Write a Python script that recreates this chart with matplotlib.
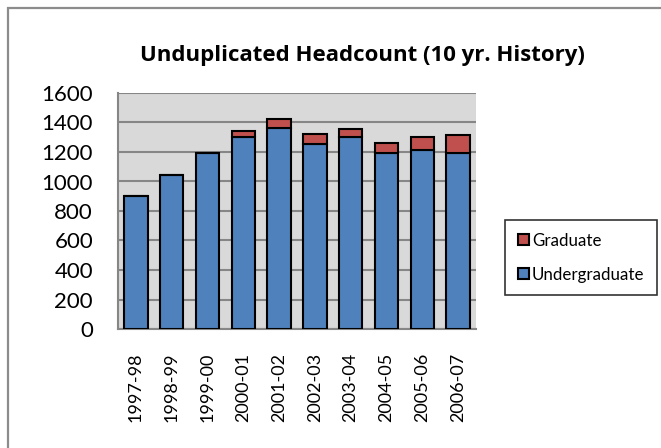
import numpy as np
import matplotlib.pyplot as plt
from matplotlib.patches import Rectangle

# ============== DATA ==============
years = ['1997-98', '1998-99', '1999-00', '2000-01', '2001-02',
         '2002-03', '2003-04', '2004-05', '2005-06', '2006-07']
undergrad = [905, 1042, 1193, 1300, 1360, 1257, 1300, 1195, 1213, 1190]
grad      = [0, 0, 0, 41, 61, 62, 59, 64, 88, 128]

plt.rcParams['font.family'] = ['Lato', 'DejaVu Sans']

W, H = 661, 448
fig = plt.figure(figsize=(W/100, H/100), dpi=100)

# chart border (cut off at right / bottom like the screenshot)
fig.patches.append(Rectangle((8/W, -0.1), 1.2, 1 - 8/H + 0.1,
                             transform=fig.transFigure, fill=False,
                             edgecolor='#8c8c8c', linewidth=1.6))

ax = fig.add_axes([118/W, 1 - 329/H, 358/W, 236/H])
ax.set_facecolor('#d9d9d9')

x = np.arange(len(years))
bw = 0.65
b1 = ax.bar(x, undergrad, width=bw, color='#4f81bd', edgecolor='black',
            linewidth=1.5, label='Undergraduate', zorder=3)
b2 = ax.bar(x, grad, width=bw, bottom=undergrad, color='#c0504d',
            edgecolor='black', linewidth=1.5, label='Graduate', zorder=3)

ax.set_xlim(-0.5, len(years) - 0.5)
ax.set_ylim(0, 1600)
ax.set_yticks(np.arange(0, 1601, 200))
ax.yaxis.grid(True, color='#868686', linewidth=1.5, zorder=0)
ax.set_axisbelow(True)

ax.set_xticks(x)
ax.set_xticklabels(years, rotation=90, fontsize=13)
ax.tick_params(axis='x', length=0, pad=17)
ax.tick_params(axis='y', length=0, pad=18, labelsize=16)

for s in ['top', 'right']:
    ax.spines[s].set_visible(False)
for s in ['left', 'bottom']:
    ax.spines[s].set_color('#868686')
    ax.spines[s].set_linewidth(1.5)

fig.text(362/W, 1 - 55/H, 'Unduplicated Headcount (10 yr. History)',
         ha='center', va='center', fontsize=16, fontweight='bold',
         family=['Open Sans', 'DejaVu Sans'])

leg = fig.legend([b2, b1], ['Graduate', 'Undergraduate'],
                 loc='upper left', bbox_to_anchor=(505/W, 1 - 220/H),
                 fontsize=12.2, frameon=True, fancybox=False,
                 handlelength=0.65, handleheight=0.65, handletextpad=0.2,
                 labelspacing=1.05, borderpad=0.75, borderaxespad=0)
leg.get_frame().set_edgecolor('black')
leg.get_frame().set_linewidth(1.2)

plt.savefig('out.png', dpi=100)
